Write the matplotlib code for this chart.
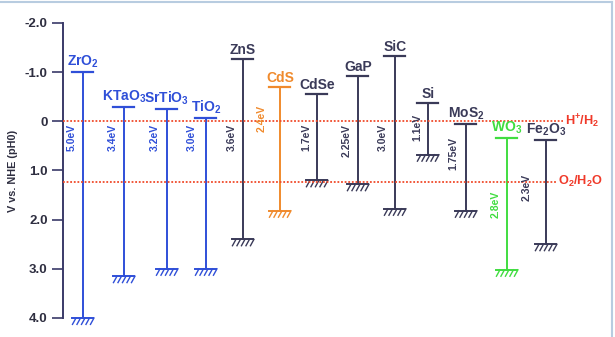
import matplotlib.pyplot as plt
from matplotlib.lines import Line2D

plt.rcParams['font.family'] = ['Liberation Sans', 'DejaVu Sans']
plt.rcParams['mathtext.fontset'] = 'custom'
plt.rcParams['mathtext.rm'] = 'Liberation Sans'
plt.rcParams['mathtext.bf'] = 'Liberation Sans:bold'

# band edges (V vs NHE), CB on top, VB at bottom
names = [r'$\mathbf{ZrO_2}$', r'$\mathbf{KTaO_3}$', r'$\mathbf{SrTiO_3}$', r'$\mathbf{TiO_2}$',
         'ZnS', 'CdS', 'CdSe', 'GaP', 'SiC', 'Si', r'$\mathbf{MoS_2}$', r'$\mathbf{WO_3}$',
         r'$\mathbf{Fe_2O_3}$']
gaps = ['5.0eV', '3.4eV', '3.2eV', '3.0eV', '3.6eV', '2.4eV', '1.7eV',
        '2.25eV', '3.0eV', '1.1eV', '1.75eV', '2.8eV', '2.3eV']
cb = [-1.0, -0.3, -0.25, -0.06, -1.27, -0.69, -0.55, -0.93, -1.33, -0.38, 0.06, 0.33, 0.37]
vb = [4.0, 3.15, 3.0, 3.0, 2.4, 1.82, 1.2, 1.28, 1.78, 0.68, 1.82, 3.02, 2.5]
xpos = [83, 124, 167, 206, 243, 280, 317, 358, 395, 428, 466, 507, 546]
# where the gap label sits (centre, V) and its x offset from the bar
gap_y = [0.33, 0.33, 0.33, 0.33, 0.33, -0.06, 0.33, 0.4, 0.33, 0.13, 0.66, 1.69, 1.34]
gap_dx = [-11, -11, -12, -14, -11, -18, -11, -11, -12, -11, -13, -11, -19]
kinds = ['b', 'b', 'b', 'b', 'k', 'o', 'k', 'k', 'k', 'k', 'k', 'g', 'k']
colors = {'b': '#2f4fd8', 'k': '#3a3a58', 'o': '#f08a2c', 'g': '#40dd40'}

redox = [0.0, 1.23]
redox_lbl = [r'$\mathbf{H^{+}/H_2}$', r'$\mathbf{O_2/H_2O}$']
redox_end = [563, 556]

fig = plt.figure(figsize=(6.15, 3.37), dpi=100)
ax = fig.add_axes([0.1024, 0.0564, 0.8926, 0.8754])
ax.set_xlim(63, 612)
ax.set_ylim(4.0, -2.0)

for y, lbl, xe in zip(redox, redox_lbl, redox_end):
    ax.plot([63, xe], [y, y], ls=(0, (1, 1)), color='#f04a2a', lw=1.3, zorder=3)
    ax.text(xe + 2, y, lbl, color='#f03a2a', fontsize=9.2,
            va='center', ha='left', clip_on=False)

hw = 10.5   # half width of caps
for i in range(len(names)):
    c = colors[kinds[i]]
    x = xpos[i]
    ax.plot([x, x], [cb[i], vb[i]], color=c, lw=1.4, zorder=2, clip_on=False)
    ax.plot([x - hw, x + hw], [cb[i], cb[i]], color=c, lw=1.6, zorder=2, clip_on=False)
    ax.plot([x - hw, x + hw], [vb[i], vb[i]], color=c, lw=1.4, zorder=2, clip_on=False)
    for k in range(5):
        x0 = x - hw + k * 4.5
        ax.plot([x0, x0 + 3.5], [vb[i] + 0.13, vb[i]], color=c, lw=1.0, zorder=2,
                clip_on=False)
    ax.text(x, cb[i] - 0.04, names[i], color=c, fontsize=10, fontweight='bold',
            ha='center', va='bottom')
    ax.text(x + gap_dx[i], gap_y[i], gaps[i], color=c, fontsize=7.5,
            fontweight='bold', rotation=90, ha='center', va='center')

ax.set_yticks([-2, -1, 0, 1, 2, 3, 4])
ax.set_yticklabels(['-2.0', '-1.0', '0', '1.0', '2.0', '3.0', '4.0'],
                   fontsize=9.5, fontweight='bold', color='#2e2e40')
ax.set_ylabel('V vs. NHE (pH0)', fontsize=7.8, fontweight='bold', color='#2e2e40',
              labelpad=5)
ax.tick_params(axis='y', direction='out', length=8, width=1.2, color='#3a3a68', pad=3)
ax.set_xticks([])
for s in ['top', 'right', 'bottom']:
    ax.spines[s].set_visible(False)
ax.spines['left'].set_color('#3a3a68')
ax.spines['left'].set_linewidth(1.4)

# slide frame
fig.add_artist(Line2D([0, 0.995], [0.994, 0.994], color='#b8cce0', lw=1.5))
fig.add_artist(Line2D([0.995, 0.995], [0, 0.994], color='#b8cce0', lw=1.5))

fig.savefig('out.png', dpi=100)
